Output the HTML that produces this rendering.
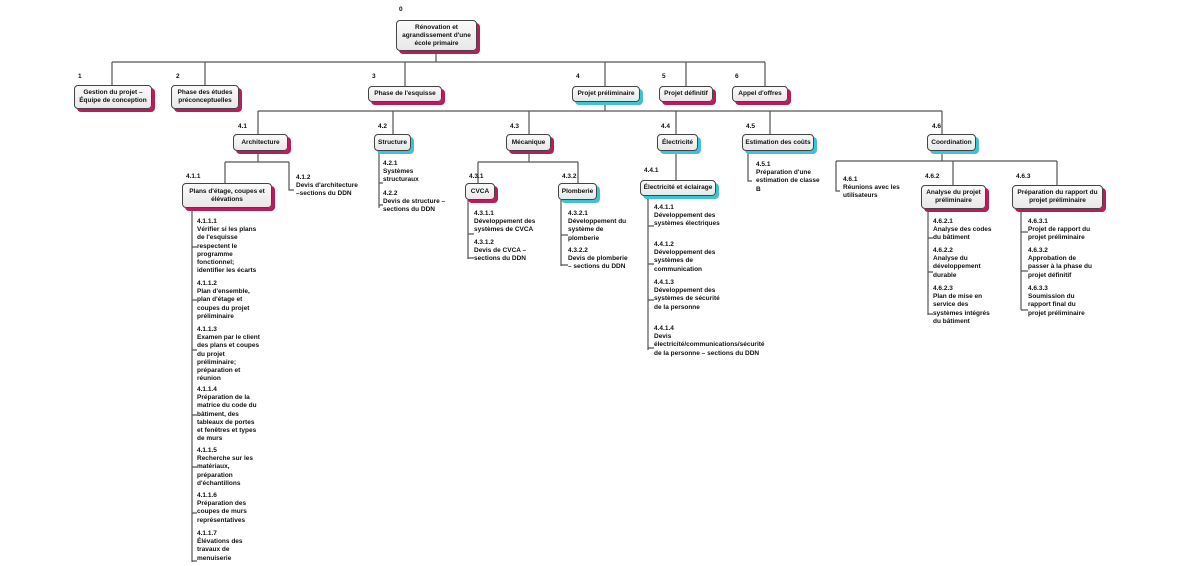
<!DOCTYPE html>
<html><head><meta charset="utf-8"><style>
body{margin:0;width:1200px;height:566px;background:#fff;position:relative;overflow:hidden;font-family:"Liberation Sans",sans-serif;color:#111}
.b{position:absolute;box-sizing:border-box;border:1px solid #444;border-radius:4px;background:linear-gradient(#fafafa,#e8e8e8);font-size:6.5px;font-weight:bold;text-align:center;display:flex;align-items:center;justify-content:center;line-height:8px;padding:0 2px}
.m{box-shadow:3px 3px 0 #c2185b}
.c{box-shadow:3px 3px 0 #3cc3d6}
.l{position:absolute;font-size:6.5px;font-weight:bold}
.t{position:absolute;font-size:6.5px;line-height:8.2px;font-weight:bold;white-space:nowrap}
svg{position:absolute;left:0;top:0}
</style></head><body>
<svg width="1200" height="566" stroke="#555" stroke-width="1.2" fill="none">
<path d="M436 50V62M112 62H765M112 62V85M205 62V85M405 62V86M605 62V86M686 62V86M765 62V86"/>
<path d="M605 101V111M258 111H942M258 111V134M393 111V134M529 111V134M676 111V134M770 111V134M942 111V134"/>
<path d="M258 151V162M225 162H289M225 162V183M289 162V190H294"/>
<path d="M192 208V562M192 247H197M192 300H197M192 350H197M192 415H197M192 467H197M192 513H197M192 561H197"/>
<path d="M379 151V208M379 183H383M379 205H383"/>
<path d="M529 151V162M478 162H578M478 162V183M578 162V183"/>
<path d="M468 200V259M468 234H474M468 258H474"/>
<path d="M561 200V266M561 235H568M561 265H568"/>
<path d="M676 151V180M648 196V350M648 226H654M648 264H654M648 300H654M648 348H654"/>
<path d="M748 151V181H752"/>
<path d="M942 151V161M836 161H1057M836 161V191H840M953 161V185M1057 161V185"/>
<path d="M928 209V315M928 238H933M928 272H933M928 314H933"/>
<path d="M1021 209V310M1021 232H1028M1021 271H1028M1021 310H1028"/>
</svg>
<div class="l" style="left:399px;top:6px">0</div>
<div class="b m" style="left:396px;top:20px;width:81px;height:31px">Rénovation et<br>agrandissement d'une<br>école primaire</div>
<div class="l" style="left:78px;top:73px">1</div>
<div class="b m" style="left:74px;top:85px;width:78px;height:24px">Gestion du projet –<br>Équipe de conception</div>
<div class="l" style="left:176px;top:73px">2</div>
<div class="b m" style="left:171px;top:85px;width:68px;height:24px">Phase des études<br>préconceptuelles</div>
<div class="l" style="left:372px;top:73px">3</div>
<div class="b m" style="left:368px;top:86px;width:74px;height:16px">Phase de l'esquisse</div>
<div class="l" style="left:576px;top:73px">4</div>
<div class="b c" style="left:572px;top:86px;width:68px;height:16px">Projet préliminaire</div>
<div class="l" style="left:662px;top:73px">5</div>
<div class="b m" style="left:659px;top:86px;width:54px;height:16px">Projet définitif</div>
<div class="l" style="left:735px;top:73px">6</div>
<div class="b m" style="left:732px;top:86px;width:56px;height:16px">Appel d'offres</div>

<div class="l" style="left:238px;top:123px">4.1</div>
<div class="b m" style="left:233px;top:134px;width:55px;height:17px">Architecture</div>
<div class="l" style="left:378px;top:123px">4.2</div>
<div class="b c" style="left:374px;top:134px;width:37px;height:17px">Structure</div>
<div class="l" style="left:510px;top:123px">4.3</div>
<div class="b m" style="left:506px;top:134px;width:45px;height:17px">Mécanique</div>
<div class="l" style="left:661px;top:123px">4.4</div>
<div class="b c" style="left:657px;top:134px;width:41px;height:17px">Électricité</div>
<div class="l" style="left:746px;top:123px">4.5</div>
<div class="b c" style="left:742px;top:134px;width:72px;height:17px">Estimation des coûts</div>
<div class="l" style="left:932px;top:123px">4.6</div>
<div class="b c" style="left:927px;top:134px;width:49px;height:17px">Coordination</div>

<div class="l" style="left:186px;top:173px">4.1.1</div>
<div class="b m" style="left:182px;top:183px;width:90px;height:25px">Plans d'étage, coupes et<br>élévations</div>
<div class="t" style="left:296px;top:174px">4.1.2<br>Devis d'architecture<br>–sections du DDN</div>

<div class="t" style="left:197px;top:218px">4.1.1.1<br>Vérifier si les plans<br>de l'esquisse<br>respectent le<br>programme<br>fonctionnel;<br>identifier les écarts</div>
<div class="t" style="left:197px;top:280px">4.1.1.2<br>Plan d'ensemble,<br>plan d'étage et<br>coupes du projet<br>préliminaire</div>
<div class="t" style="left:197px;top:326px">4.1.1.3<br>Examen par le client<br>des plans et coupes<br>du projet<br>préliminaire;<br>préparation et<br>réunion</div>
<div class="t" style="left:197px;top:386px">4.1.1.4<br>Préparation de la<br>matrice du code du<br>bâtiment, des<br>tableaux de portes<br>et fenêtres et types<br>de murs</div>
<div class="t" style="left:197px;top:447px">4.1.1.5<br>Recherche sur les<br>matériaux,<br>préparation<br>d'échantillons</div>
<div class="t" style="left:197px;top:492px">4.1.1.6<br>Préparation des<br>coupes de murs<br>représentatives</div>
<div class="t" style="left:197px;top:530px">4.1.1.7<br>Élévations des<br>travaux de<br>menuiserie</div>

<div class="t" style="left:383px;top:160px">4.2.1<br>Systèmes<br>structuraux</div>
<div class="t" style="left:383px;top:190px">4.2.2<br>Devis de structure –<br>sections du DDN</div>

<div class="l" style="left:469px;top:173px">4.3.1</div>
<div class="b m" style="left:465px;top:183px;width:30px;height:17px">CVCA</div>
<div class="l" style="left:562px;top:173px">4.3.2</div>
<div class="b c" style="left:558px;top:183px;width:39px;height:17px">Plomberie</div>
<div class="t" style="left:474px;top:210px">4.3.1.1<br>Développement des<br>systèmes de CVCA</div>
<div class="t" style="left:474px;top:239px">4.3.1.2<br>Devis de CVCA –<br>sections du DDN</div>
<div class="t" style="left:568px;top:210px">4.3.2.1<br>Développement du<br>système de<br>plomberie</div>
<div class="t" style="left:568px;top:247px">4.3.2.2<br>Devis de plomberie<br>– sections du DDN</div>

<div class="l" style="left:644px;top:167px">4.4.1</div>
<div class="b c" style="left:640px;top:180px;width:76px;height:16px">Électricité et éclairage</div>
<div class="t" style="left:654px;top:204px">4.4.1.1<br>Développement des<br>systèmes électriques</div>
<div class="t" style="left:654px;top:241px">4.4.1.2<br>Développement des<br>systèmes de<br>communication</div>
<div class="t" style="left:654px;top:279px">4.4.1.3<br>Développement des<br>systèmes de sécurité<br>de la personne</div>
<div class="t" style="left:654px;top:325px">4.4.1.4<br>Devis<br>électricité/communications/sécurité<br>de la personne – sections du DDN</div>

<div class="t" style="left:756px;top:161px">4.5.1<br>Préparation d'une<br>estimation de classe<br>B</div>

<div class="t" style="left:843px;top:176px">4.6.1<br>Réunions avec les<br>utilisateurs</div>
<div class="l" style="left:925px;top:173px">4.6.2</div>
<div class="b m" style="left:921px;top:185px;width:65px;height:24px">Analyse du projet<br>préliminaire</div>
<div class="l" style="left:1016px;top:173px">4.6.3</div>
<div class="b m" style="left:1012px;top:185px;width:91px;height:24px">Préparation du rapport du<br>projet préliminaire</div>
<div class="t" style="left:933px;top:218px">4.6.2.1<br>Analyse des codes<br>du bâtiment</div>
<div class="t" style="left:933px;top:247px">4.6.2.2<br>Analyse du<br>développement<br>durable</div>
<div class="t" style="left:933px;top:285px">4.6.2.3<br>Plan de mise en<br>service des<br>systèmes intégrés<br>du bâtiment</div>
<div class="t" style="left:1028px;top:218px">4.6.3.1<br>Projet de rapport du<br>projet préliminaire</div>
<div class="t" style="left:1028px;top:247px">4.6.3.2<br>Approbation de<br>passer à la phase du<br>projet définitif</div>
<div class="t" style="left:1028px;top:285px">4.6.3.3<br>Soumission du<br>rapport final du<br>projet préliminaire</div>
</body></html>
